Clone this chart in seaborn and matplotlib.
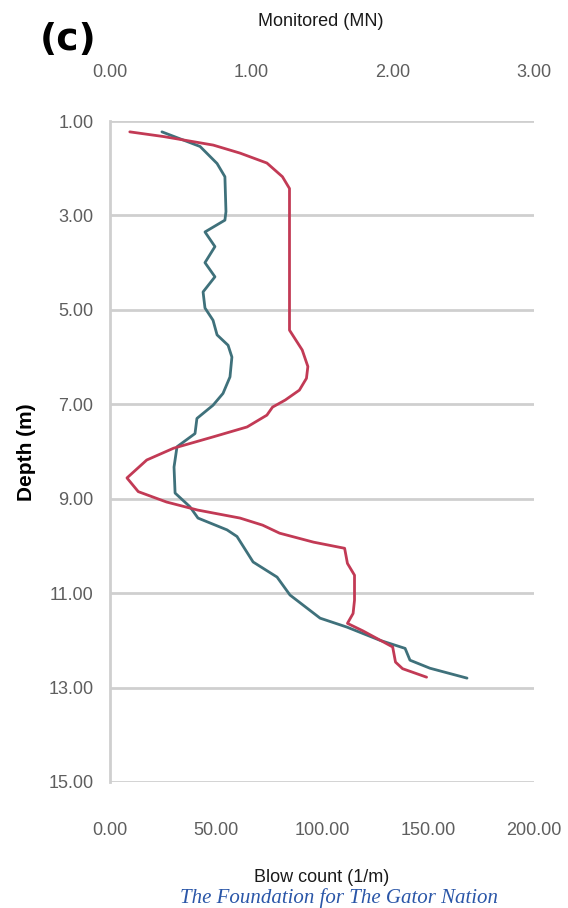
import matplotlib
matplotlib.use("Agg")
import matplotlib.pyplot as plt
import pandas as pd
import seaborn as sns

# Monitored capacity profile (MN) against depth (m)
mn_depth = [1.23, 1.33, 1.51, 1.68, 1.89, 2.18, 2.43, 3.03, 5.43, 5.57, 5.85, 6.20,
            6.45, 6.70, 6.91, 7.06, 7.23, 7.48, 7.69, 7.93, 8.18, 8.56, 8.85, 9.07,
            9.24, 9.41, 9.56, 9.73, 9.92, 10.05, 10.37, 10.62, 11.15, 11.43, 11.64,
            11.80, 12.14, 12.46, 12.60, 12.78]
mn_value = [0.14, 0.38, 0.73, 0.92, 1.11, 1.22, 1.27, 1.27, 1.27, 1.30, 1.36, 1.40,
            1.39, 1.34, 1.24, 1.15, 1.11, 0.97, 0.73, 0.45, 0.26, 0.12, 0.20, 0.40,
            0.62, 0.92, 1.08, 1.20, 1.44, 1.66, 1.68, 1.73, 1.73, 1.72, 1.68,
            1.79, 2.00, 2.02, 2.07, 2.24]

# Blow count profile (1/m) against depth (m)
bc_depth = [1.23, 1.54, 1.90, 2.18, 2.92, 3.10, 3.35, 3.66, 4.00, 4.30, 4.62, 4.96,
            5.22, 5.53, 5.75, 6.00, 6.42, 6.77, 7.02, 7.30, 7.62, 7.90, 8.33, 8.88,
            9.17, 9.41, 9.66, 9.80, 10.34, 10.66, 11.04, 11.53, 11.72, 12.00, 12.17,
            12.42, 12.59, 12.80]
bc_value = [24.5, 42.5, 50.5, 54.2, 54.7, 54.2, 44.8, 49.5, 44.8, 49.5, 43.9, 44.8,
            48.6, 50.5, 55.7, 57.5, 56.6, 53.3, 48.6, 41.0, 40.1, 31.6, 30.2, 30.7,
            37.7, 41.5, 55.2, 59.9, 67.5, 78.8, 84.9, 99.1, 111.8, 127.4, 139.2,
            141.5, 150.9, 168.4]

depth_ticks = [1, 3, 5, 7, 9, 11, 13, 15]
bc_ticks = [0, 50, 100, 150, 200]
mn_ticks = [0, 1, 2, 3]

sns.set_theme(style="white")
sans = ["Liberation Sans", "DejaVu Sans"]
plt.rcParams["font.family"] = sans

fig = plt.figure(figsize=(5.68, 9.08), dpi=100)
ax = fig.add_axes([110 / 568, 1 - 782 / 908, 424 / 568, 661 / 908])
ax2 = ax.twiny()

bc = pd.DataFrame({"depth": bc_depth, "value": bc_value})
mn = pd.DataFrame({"depth": mn_depth, "value": mn_value})

sns.lineplot(data=bc, x="value", y="depth", ax=ax, orient="y", estimator=None,
             color="#3f717b", linewidth=2.0)
sns.lineplot(data=mn, x="value", y="depth", ax=ax2, orient="y", estimator=None,
             color="#c23a55", linewidth=2.0)

ax.set_ylim(15, 1)
ax.set_xlim(0, 200)
ax2.set_xlim(0, 3)

ax.set_yticks(depth_ticks)
ax.set_yticklabels([f"{v:.2f}" for v in depth_ticks])
ax.set_xticks(bc_ticks)
ax.set_xticklabels([f"{v:.2f}" for v in bc_ticks])
ax2.set_xticks(mn_ticks)
ax2.set_xticklabels([f"{v:.2f}" for v in mn_ticks])

tick_col = "#5e5e5e"
ax.tick_params(axis="y", length=0, pad=12, labelsize=13, labelcolor=tick_col)
ax.tick_params(axis="x", length=0, pad=29, labelsize=13, labelcolor=tick_col)
ax2.tick_params(axis="x", length=0, pad=29, labelsize=13, labelcolor=tick_col)

ax.grid(axis="y", color="#cfcfcf", linewidth=2)
ax.grid(axis="x", visible=False)
ax2.grid(False)

for a in (ax, ax2):
    for side in ("top", "right", "bottom", "left"):
        a.spines[side].set_visible(False)
ax.spines["left"].set_visible(True)
ax.spines["left"].set_color("#cfcfcf")
ax.spines["left"].set_linewidth(2)

ax.set_xlabel("")
ax.set_ylabel("")
ax2.set_xlabel("")

fig.text(322 / 568, 1 - 877 / 908, "Blow count (1/m)", ha="center", va="center",
         fontsize=13, color="#1a1a1a")
fig.text(321 / 568, 1 - 22 / 908, "Monitored (MN)", ha="center", va="center",
         fontsize=13, color="#1a1a1a")
fig.text(27 / 568, 1 - 452 / 908, "Depth (m)", ha="center", va="center",
         rotation=90, fontsize=15, fontweight="bold", color="black")
fig.text(68 / 568, 1 - 40 / 908, "(c)", ha="center", va="center",
         fontsize=27, fontweight="bold", color="black", family=["DejaVu Sans"])
fig.text(180 / 568, 1 - 903 / 908, "The Foundation for The Gator Nation",
         ha="left", va="baseline", fontsize=15, style="italic", color="#2a56a8",
         family=["Liberation Serif", "DejaVu Serif"])

fig.savefig("out.png", dpi=100)
